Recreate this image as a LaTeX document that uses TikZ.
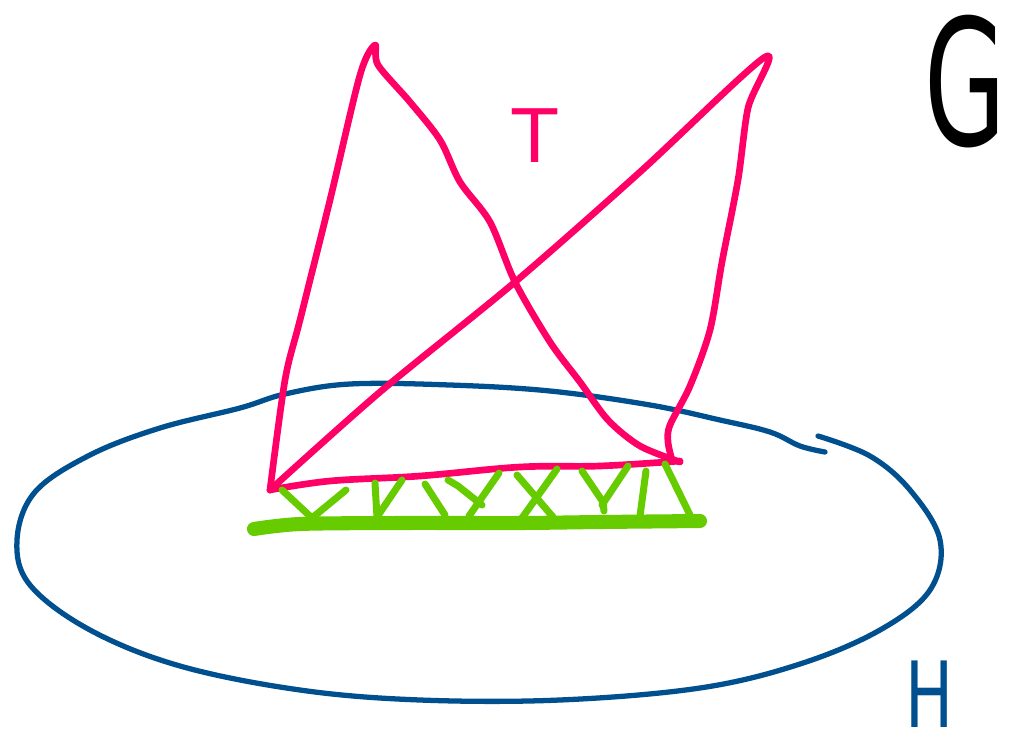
\documentclass[tikz,border=0pt]{standalone}
\usepackage{fontspec}
\setsansfont{DejaVu Sans}
\usetikzlibrary{positioning}
\definecolor{penpink}{RGB}{255,0,102}
\definecolor{penblue}{RGB}{0,80,144}
\definecolor{pengreen}{RGB}{102,204,0}

\begin{document}
\begin{tikzpicture}[
    x=0.02cm, y=-0.02cm,
    rim/.style={draw=penblue, line width=3pt, line cap=round, line join=round},
    sail/.style={draw=penpink, line width=3.8pt, line cap=round, line join=round},
    strut/.style={draw=pengreen, line width=4pt, line cap=round, line join=round},
    keel/.style={draw=pengreen, line width=8pt, line cap=round, line join=round},
    letter/.style={inner sep=0pt, font=\sffamily}
]
\useasboundingbox (0,0) rectangle (1031,750);

% Ellipse H
\draw [rim] plot[smooth, tension=0.6] coordinates {(818,436) (870,456) (910,490) (940,540) (930,590) (880,630) (800,664) (700,688) (560,700) (420,700) (300,690) (180,666) (90,630) (30,585) (17,540) (35,492) (90,455) (160,428) (240,408) (285,394) (350,384) (450,385) (550,391) (650,405) (720,420) (770,432) (800,446) (825,452)};

% Pink triangles
\draw [sail] plot[smooth, tension=0.5] coordinates {(270,490) (285,380) (300,320) (330,200) (360,75) (375,45) (378,65) (410,102) (440,140) (460,182) (490,222) (515,282) (550,342) (580,382) (608,420) (640,446) (680,462)};
\draw [sail] plot[smooth, tension=0.5] coordinates {(270,490) (380,392) (515,282) (640,172) (765,57) (748,108) (738,180) (722,262) (710,330) (690,386) (670,425) (668,442) (672,460)};
\draw [sail] plot[smooth, tension=0.6] coordinates {(270,490) (330,481) (420,476) (520,467) (600,466) (680,461)};

% Green ladder
\draw [keel] plot[smooth, tension=0.5] coordinates {(254,529) (300,524) (400,523) (520,523) (600,522) (700,521)};
\draw [strut] (282,490) -- (312,518) -- (346,490);
\draw [strut] (375,483) -- (377,517) -- (402,480);
\draw [strut] (425,484) -- (445,515);
\draw [strut] (448,480) -- (458,486) -- (482,505);
\draw [strut] (499,473) -- (469,516);
\draw [strut] (517,475) -- (553,517);
\draw [strut] (557,469) -- (522,518);
\draw [strut] (582,471) -- (603,502) -- (604,511);
\draw [strut] (628,466) -- (602,505);
\draw [strut] (646,471) -- (640,516);
\draw [strut] (665,464) -- (690,515);

% Labels
\node (g) [letter, text=black, font=\sffamily\fontsize{100}{100}\selectfont] at (965,82) {\scalebox{0.6}[1]{G}};
\node (t) [letter, text=penpink, font=\sffamily\fontsize{42}{42}\selectfont] at (535,136) {T};
\node (h) [letter, text=penblue, font=\sffamily\fontsize{52}{52}\selectfont] at (930,694) {\scalebox{0.7}[1]{H}};

\end{tikzpicture}
\end{document}
